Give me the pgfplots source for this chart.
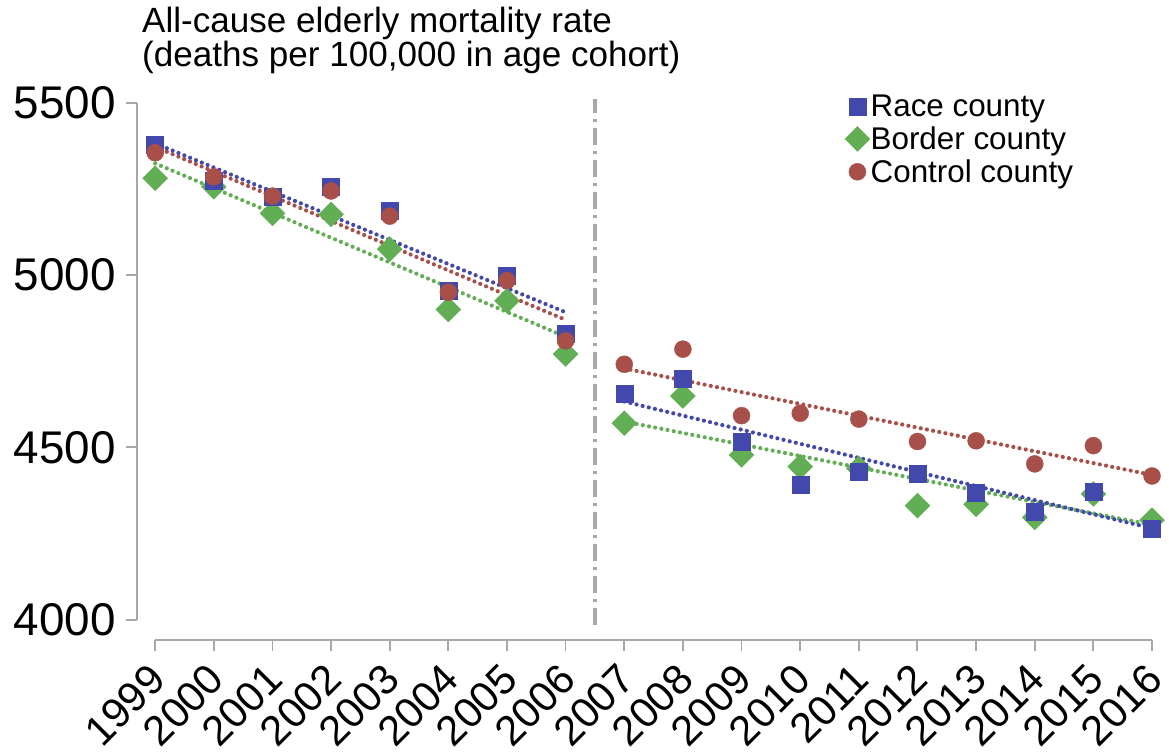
\documentclass[border=0pt]{standalone}
\usepackage{fontspec}
\setmainfont{Liberation Sans}
\usepackage{pgfplots}
\pgfplotsset{compat=1.18}
\definecolor{cblue}{HTML}{4349AC}
\definecolor{cgreen}{HTML}{62AE54}
\definecolor{cred}{HTML}{A94F4A}
\definecolor{axgray}{HTML}{A8A8A8}
\pgfplotstableread{
year race border control
1999 5377 5281 5355
2000 5275 5256 5285
2001 5227 5179 5229
2002 5255 5176 5244
2003 5186 5075 5171
2004 4955 4900 4950
2005 4998 4925 4984
2006 4831 4771 4809
2007 4655 4570 4741
2008 4698 4649 4785
2009 4516 4478 4592
2010 4391 4444 4599
2011 4430 4439 4582
2012 4423 4331 4517
2013 4369 4335 4519
2014 4313 4297 4452
2015 4372 4365 4505
2016 4265 4289 4417
}\datatable
\begin{document}
\begin{tikzpicture}
\path[use as bounding box] (-137bp,-114bp) rectangle (1032bp,640bp);
\begin{axis}[
  scale only axis, width=1015bp, height=547.6bp,
  xmin=1998.69, xmax=2016, ymin=3941, ymax=5530,
  clip=false,
  axis x line*=bottom, axis y line*=left,
  axis line style={draw=none},
  xtick={1999,...,2016}, ytick={4000,4500,5000,5500},
  tick align=outside, major tick length=11bp,
  every tick/.style={axgray, line width=1.8bp},
  /pgf/number format/assume math mode=true,
  /pgf/number format/set thousands separator={},
  xticklabel style={shift={(-8bp,-9bp)}, rotate=45, anchor=north east, font=\fontsize{42}{42}\selectfont, inner sep=1bp},
  yticklabel style={font=\fontsize{46}{46}\selectfont, inner sep=2bp, xshift=-8bp},
  legend style={at={(axis cs:2010.76,5525)}, anchor=north west, draw=none, fill=none,
    font=\fontsize{31.5}{31.5}\selectfont, row sep=7bp, inner sep=0pt, nodes={inner sep=0.8bp}},
  legend cell align=left,
  legend image code/.code={\draw[#1] plot coordinates {(0bp,0bp)};},
]
\addlegendimage{only marks, mark=square*, color=cblue, mark size=8.5bp}
\addlegendentry{Race county}
\addlegendimage{only marks, mark=square*, mark options={rotate=45}, color=cgreen, mark size=8.8bp}
\addlegendentry{Border county}
\addlegendimage{only marks, mark=*, color=cred, mark size=8.5bp}
\addlegendentry{Control county}

% axis lines
\draw[axgray, line width=1.8bp] (axis cs:1998.69,4000) -- (axis cs:1998.69,5500);
\draw[axgray, line width=1.8bp] (axis cs:1999,3941) -- (axis cs:2016,3941);
% break line
\draw[axgray, line width=3.5bp, dash pattern=on 17bp off 6bp on 3bp off 6bp] (axis cs:2006.5,3985) -- (axis cs:2006.5,5510);

% trend lines
\pgfplotsset{trend/.style={forget plot, no marks, line width=4.2bp, line cap=round, dash pattern=on 0bp off 6.3bp}}
\addplot[trend, cgreen] coordinates {(1999,5324) (2006,4821)};
\addplot[trend, cred] coordinates {(1999,5372) (2006,4870)};
\addplot[trend, cblue] coordinates {(1999,5382) (2006,4892)};
\addplot[trend, cgreen] coordinates {(2007,4575) (2016,4275)};
\addplot[trend, cred] coordinates {(2007,4729) (2016,4420)};
\addplot[trend, cblue] coordinates {(2007,4633) (2016,4265)};

% markers
\addplot[forget plot, only marks, mark=square*, mark options={rotate=45}, color=cgreen, mark size=8.8bp] table[x=year, y=border] {\datatable};
\addplot[forget plot, only marks, mark=square*, color=cblue, mark size=8.5bp] table[x=year, y=race] {\datatable};
\addplot[forget plot, only marks, mark=*, color=cred, mark size=8.5bp] table[x=year, y=control] {\datatable};
\end{axis}
\node[anchor=north west, align=left, inner sep=0pt, font=\fontsize{35.2}{34.5}\selectfont] at (5bp,633bp)
  {All-cause elderly mortality rate\\(deaths per 100,000 in age cohort)};
\end{tikzpicture}
\end{document}
